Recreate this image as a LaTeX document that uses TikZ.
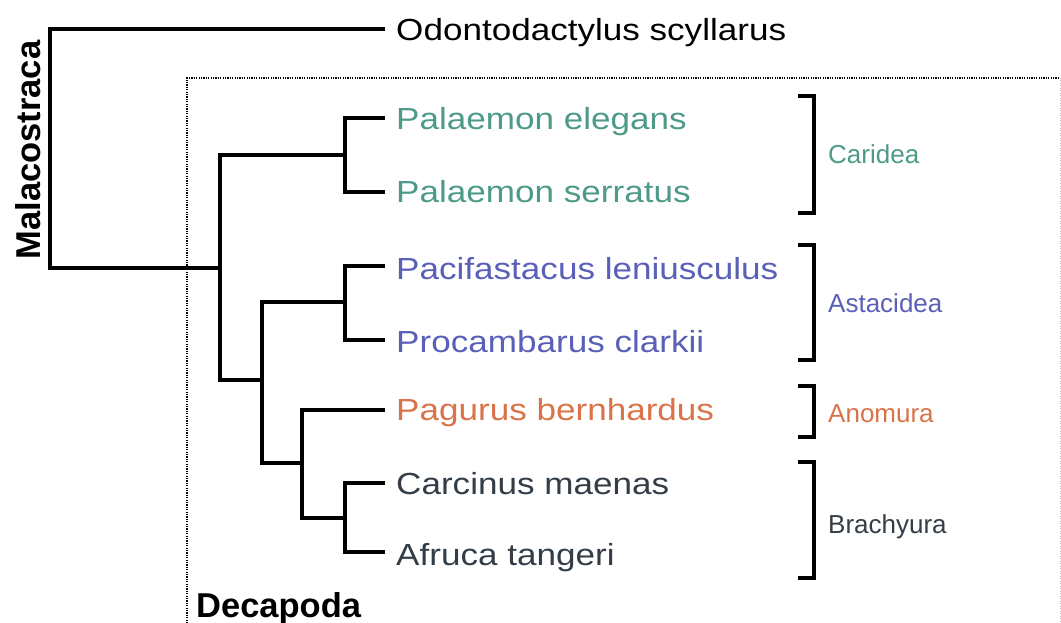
\documentclass[tikz,border=0pt]{standalone}
\usepackage{fontspec}
\setmainfont{Liberation Sans}
\definecolor{cteal}{HTML}{4E9A88}
\definecolor{cblue}{HTML}{5A5FB8}
\definecolor{corange}{HTML}{D9734A}
\definecolor{cdark}{HTML}{333D48}
\tikzset{
  tree/.style={line width=4.6pt, line join=miter, line cap=butt},
  bracketline/.style={line width=4.6pt, line join=miter},
  species/.style={anchor=base west, inner sep=0pt, font=\fontsize{30.5}{34}\selectfont, xscale=1.15},
  clade/.style={anchor=base west, inner sep=0pt, font=\fontsize{26}{30}\selectfont},
  bigbold/.style={inner sep=0pt, font=\fontsize{34.5}{38}\selectfont\bfseries},
}
\begin{document}
\begin{tikzpicture}[x=1pt,y=-1pt]
\useasboundingbox (0,0) rectangle (1061,623);
% dotted Decapoda box
\draw[dash pattern=on 1.2pt off 1.2pt, line width=1.4pt] (187,640) -- (187,78) -- (1060,78);
\draw[dash pattern=on 1pt off 1.5pt, line width=1pt, black!25] (1060,78) -- (1060,640);
% leaf tips
\coordinate (tOdo) at (385,29);
\coordinate (tPe) at (385,118);
\coordinate (tPs) at (385,192);
\coordinate (tPl) at (385,266);
\coordinate (tPc) at (385,340);
\coordinate (tPb) at (385,410);
\coordinate (tCm) at (385,483);
\coordinate (tAt) at (385,552);
% internal nodes
\coordinate (root) at (50,148);
\coordinate (dec) at (220,268);
\coordinate (car) at (345,155);
\coordinate (low) at (262,380);
\coordinate (ast) at (345,302);
\coordinate (pb) at (302,463);
\coordinate (bra) at (345,518);
% tree
\draw[tree] (tOdo) -| (root) |- (dec);
\draw[tree] (car) -| (dec) |- (low);
\draw[tree] (tPe) -| (car) |- (tPs);
\draw[tree] (ast) -| (low) |- (pb);
\draw[tree] (tPl) -| (ast) |- (tPc);
\draw[tree] (tPb) -| (pb) |- (bra);
\draw[tree] (tCm) -| (bra) |- (tAt);
% species labels
\node[species] (lOdo) at (396,41) {Odontodactylus scyllarus};
\node[species, text=cteal] (lPe) at (396,130) {Palaemon elegans};
\node[species, text=cteal] (lPs) at (396,203) {Palaemon serratus};
\node[species, text=cblue] (lPl) at (396,279) {Pacifastacus leniusculus};
\node[species, text=cblue] (lPc) at (396,352) {Procambarus clarkii};
\node[species, text=corange] (lPb) at (396,420) {Pagurus bernhardus};
\node[species, text=cdark] (lCm) at (396,494) {Carcinus maenas};
\node[species, text=cdark] (lAt) at (396,565) {Afruca tangeri};
% brackets
\draw[bracketline] (798,96) -| (814,213) -- (798,213);
\draw[bracketline] (798,245) -| (814,360) -- (798,360);
\draw[bracketline] (798,386) -| (814,437) -- (798,437);
\draw[bracketline] (798,462) -| (814,578) -- (798,578);
% clade labels
\node[clade, text=cteal] (cCar) at (828,164) {Caridea};
\node[clade, text=cblue] (cAst) at (828,312) {Astacidea};
\node[clade, text=corange] (cAno) at (828,422) {Anomura};
\node[clade, text=cdark] (cBra) at (828,533) {Brachyura};
% group labels
\node[bigbold, rotate=90, anchor=base] (mal) at (40,150) {Malacostraca};
\node[bigbold, anchor=base west] (decl) at (196,617) {Decapoda};
\end{tikzpicture}
\end{document}
